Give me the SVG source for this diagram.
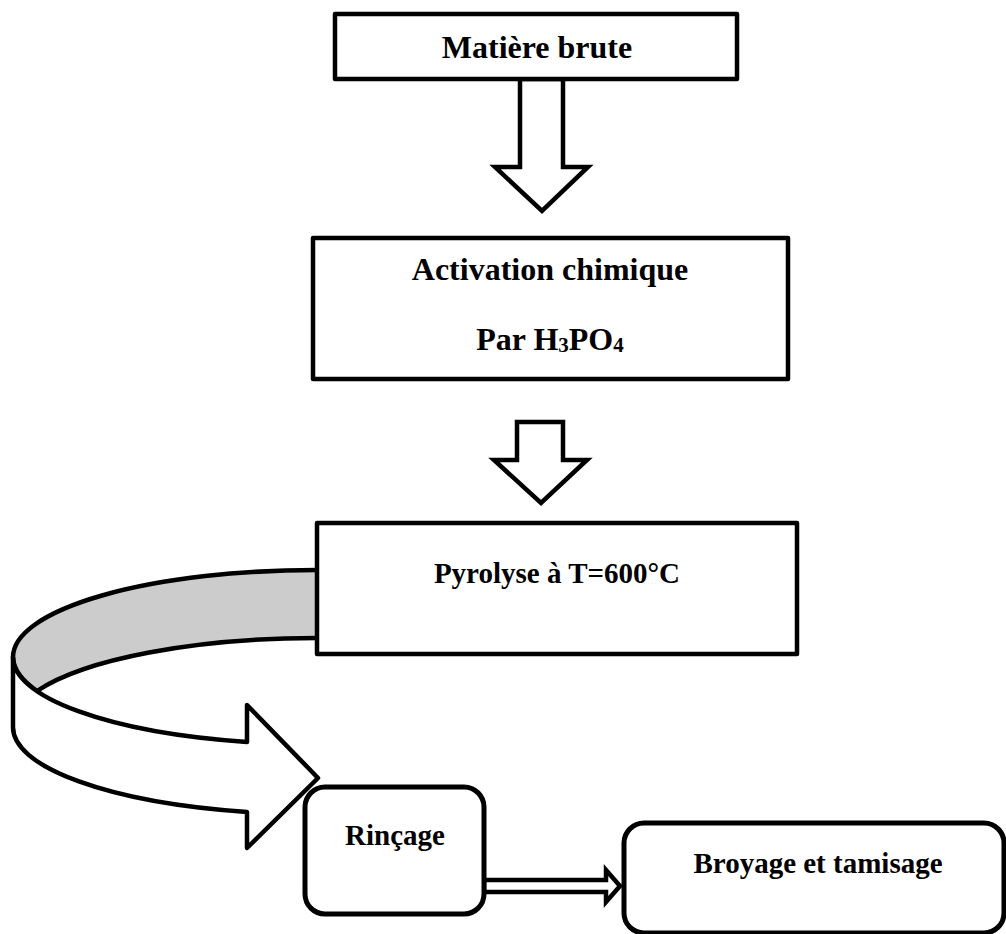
<svg xmlns="http://www.w3.org/2000/svg" width="1006" height="934" viewBox="0 0 1006 934">
<style>
.box{fill:#fff;stroke:#000;stroke-width:4.5;stroke-linejoin:round}
.rbox{fill:#fff;stroke:#000;stroke-width:5}
.arr{fill:#fff;stroke:#000;stroke-width:4.5;stroke-linejoin:miter}
.t1{font-family:"Liberation Serif","Times New Roman",serif;font-weight:bold;font-size:32px;fill:#000;text-anchor:middle}
.t2{font-family:"Liberation Serif","Times New Roman",serif;font-weight:bold;font-size:29px;fill:#000;text-anchor:middle}
</style>
<rect width="1006" height="934" fill="#fff"/>
<g id="connectors">
  <polygon class="arr" points="520,79 563,79 563,167 588,167 542,211 495,167 520,167"/>
  <polygon class="arr" points="517,422 563,422 563,460 587,460 541,503 494,460 517,460"/>
  <path d="M317 570 A304 87 0 0 0 13 657 A304 87 0 0 0 37 691 A304 87 0 0 1 317 638" fill="#cccccc" stroke="#000" stroke-width="4.5" stroke-linejoin="round"/>
  <path d="M13 657 A304 87 0 0 0 247 742 L247 705 L318 778 L247 848 L247 812 A304 87 0 0 1 13 727 Z" fill="#fff" stroke="#000" stroke-width="4.5" stroke-linejoin="round"/>
  <polygon class="arr" stroke-width="5" points="484,880 606,880 606,870 620,886 606,902 606,892 484,892"/>
</g>
<g id="node-matiere">
  <rect class="box" x="335" y="14" width="402" height="65"/>
  <text class="t1" x="537" y="58">Matière brute</text>
</g>
<g id="node-activation">
  <rect class="box" x="313" y="238" width="475" height="141"/>
  <text class="t1" x="550" y="280">Activation chimique</text>
  <text class="t1" x="550" y="350">Par H<tspan font-size="21" dy="2">3</tspan><tspan dy="-2">PO</tspan><tspan font-size="21" dy="2">4</tspan></text>
</g>
<g id="node-pyrolyse">
  <rect class="box" x="317" y="523" width="480" height="131"/>
  <text class="t2" x="557" y="583">Pyrolyse à T=600°C</text>
</g>
<g id="node-rincage">
  <rect class="rbox" x="305" y="787" width="179" height="127" rx="20" ry="20"/>
  <text class="t2" x="395" y="845">Rinçage</text>
</g>
<g id="node-broyage">
  <rect class="rbox" x="624" y="823" width="380" height="110" rx="20" ry="20"/>
  <text class="t2" x="818" y="873">Broyage et tamisage</text>
</g>
</svg>
